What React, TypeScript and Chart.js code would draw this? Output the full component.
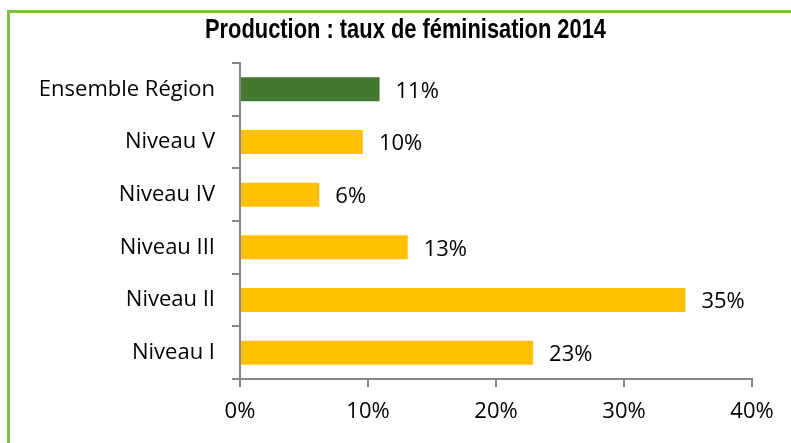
import React, { useEffect, useRef } from "react";
import { Chart, registerables } from "chart.js";

Chart.register(...registerables);

const title = "Production : taux de féminisation 2014";
const categories = ["Ensemble Région", "Niveau V", "Niveau IV", "Niveau III", "Niveau II", "Niveau I"];
const values = [10.9, 9.6, 6.2, 13.1, 34.8, 22.9];
const valueLabels = ["11%", "10%", "6%", "13%", "35%", "23%"];
const barColors = ["#42792F", "#FFC000", "#FFC000", "#FFC000", "#FFC000", "#FFC000"];
const xTicks = [0, 10, 20, 30, 40];

const TICK_FONT = "'Open Sans', Lato, sans-serif";
const TITLE_FONT = "'Liberation Sans Narrow', 'Liberation Sans', Arial, sans-serif";

const labelPlugin = {
  id: "valueLabels",
  afterDatasetsDraw(chart: any) {
    const ctx = chart.ctx;
    const meta = chart.getDatasetMeta(0);
    ctx.save();
    ctx.font = `22px ${TICK_FONT}`;
    ctx.fillStyle = "#000";
    ctx.textAlign = "left";
    ctx.textBaseline = "middle";
    meta.data.forEach((el: any, i: number) => {
      ctx.fillText(valueLabels[i], el.x + 16, el.y + 2);
    });
    ctx.restore();
  },
};

const titlePlugin = {
  id: "narrowTitle",
  afterDraw(chart: any) {
    const ctx = chart.ctx;
    ctx.save();
    ctx.font = `bold 28px ${TITLE_FONT}`;
    ctx.fillStyle = "#000";
    ctx.textAlign = "center";
    ctx.textBaseline = "alphabetic";
    const w = ctx.measureText(title).width;
    const target = 401;
    const sx = w > target ? target / w : 1;
    ctx.translate(405.5, 38);
    ctx.scale(sx, 1);
    ctx.fillText(title, 0, 0);
    ctx.restore();
  },
};

export default function App() {
  const ref = useRef<HTMLCanvasElement>(null);
  useEffect(() => {
    if (!ref.current) return;
    const chart = new Chart(ref.current, {
      type: "bar",
      data: {
        labels: categories,
        datasets: [
          {
            data: values,
            backgroundColor: barColors,
            borderWidth: 0,
            barPercentage: 0.455,
            categoryPercentage: 1,
          },
        ],
      },
      options: {
        indexAxis: "y",
        animation: false,
        responsive: false,
        maintainAspectRatio: false,
        layout: { padding: { left: 0, right: 39, top: 63, bottom: 0 } },
        plugins: {
          legend: { display: false },
          tooltip: { enabled: false },
          title: { display: false },
        },
        scales: {
          x: {
            min: 0,
            max: 40,
            afterBuildTicks: (s: any) => {
              s.ticks = xTicks.map((v) => ({ value: v }));
            },
            afterFit: (s: any) => {
              s.height = 64;
            },
            ticks: {
              callback: (v: any) => `${v}%`,
              color: "#000",
              font: { family: TICK_FONT, size: 22 },
              padding: 12,
              maxRotation: 0,
            },
            grid: {
              display: true,
              drawOnChartArea: false,
              drawTicks: true,
              tickLength: 8,
              color: "#868686",
              lineWidth: 2,
            },
            border: { display: true, color: "#868686", width: 2 },
          },
          y: {
            afterFit: (s: any) => {
              s.width = 240;
            },
            ticks: {
              color: "#000",
              font: { family: TICK_FONT, size: 22 },
              padding: 17,
            },
            grid: {
              display: true,
              drawOnChartArea: false,
              drawTicks: true,
              tickLength: 8,
              color: "#868686",
              lineWidth: 2,
              offset: true,
            },
            border: { display: true, color: "#868686", width: 2 },
          },
        },
      },
      plugins: [labelPlugin, titlePlugin],
    });
    return () => chart.destroy();
  }, []);

  return (
    <div style={{ position: "fixed", left: 0, top: 0, width: 791, height: 443, background: "#fff", overflow: "hidden" }}>
      <div
        style={{
          position: "absolute",
          left: 7,
          top: 10,
          right: 0,
          bottom: 0,
          borderLeft: "3px solid #7DC242",
          borderTop: "3px solid #7DC242",
        }}
      />
      <canvas ref={ref} width={791} height={443} style={{ position: "absolute", left: 0, top: 0, width: 791, height: 443 }} />
    </div>
  );
}
